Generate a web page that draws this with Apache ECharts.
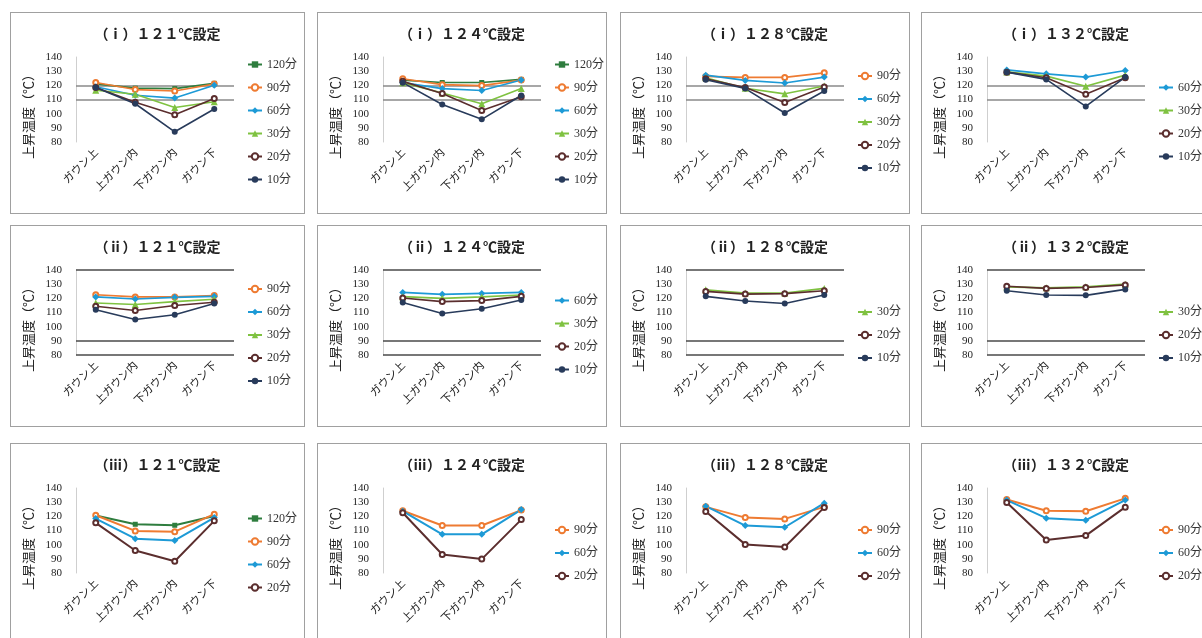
<!DOCTYPE html>
<html>
<head>
<meta charset="utf-8">
<script src="https://cdn.jsdelivr.net/npm/echarts@6/dist/echarts.min.js"></script>
<style>
  html, body { margin: 0; width: 1202px; height: 638px; overflow: hidden; background: #fff; }
  .panel { position: absolute; box-sizing: border-box; border: 1.5px solid #a0a0a0; background: #fff; }
</style>
</head>
<body>
<script>
// categories (x axis)
const cats = ['ガウン上', '上ガウン内', '下ガウン内', 'ガウン下'];
// y axis ticks
const yMin = 80, yMax = 140, yStep = 10;

// row (i)
const names_i121 = ['120分', '90分', '60分', '30分', '20分', '10分'];
const vals_i121 = [
  [121, 118, 117.7, 121.4],
  [122, 117, 116, 121],
  [119, 113, 111, 120],
  [116.5, 113.7, 104.4, 108.4],
  [118.4, 108, 99.3, 110.7],
  [118.4, 107, 87.2, 103.3]
];
const names_i124 = ['120分', '90分', '60分', '30分', '20分', '10分'];
const vals_i124 = [
  [123.7, 122, 122, 124.2],
  [124.7, 120.5, 119.8, 123.7],
  [121.9, 117.7, 116.3, 123.7],
  [121.9, 114.6, 107, 117.7],
  [122.8, 114.2, 102.3, 111.9],
  [121.9, 106.5, 96, 112.8]
];
const names_i128 = ['90分', '60分', '30分', '20分', '10分'];
const vals_i128 = [
  [126.3, 125.6, 125.6, 128.8],
  [127.2, 123.5, 121.6, 125.8],
  [125.3, 117.9, 114, 119.5],
  [124.7, 118.4, 107.9, 118.8],
  [124, 117.7, 100.5, 116]
];
const names_i132 = ['60分', '30分', '20分', '10分'];
const vals_i132 = [
  [130.9, 128.1, 125.8, 130.5],
  [129.5, 126.5, 119.3, 127.2],
  [129.3, 125.3, 113.7, 125.3],
  [129.3, 124.2, 105.1, 125.8]
];

// row (ii)
const names_ii121 = ['90分', '60分', '30分', '20分', '10分'];
const vals_ii121 = [
  [122.5, 121, 121, 122],
  [121, 119.5, 120.7, 121.4],
  [116.7, 115.6, 117.7, 119.3],
  [114.4, 111.4, 114.9, 117.2],
  [111.9, 105.1, 108.4, 116.3]
];
const names_ii124 = ['60分', '30分', '20分', '10分'];
const vals_ii124 = [
  [124.2, 122.8, 123.5, 124.2],
  [121.2, 120, 121, 122.3],
  [120.2, 117.7, 118.4, 121.4],
  [117, 109.3, 112.6, 118.8]
];
const names_ii128 = ['30分', '20分', '10分'];
const vals_ii128 = [
  [126, 123.7, 123.7, 127],
  [124.9, 123, 123.3, 125.3],
  [121.4, 118.1, 116.3, 122.3]
];
const names_ii132 = ['30分', '20分', '10分'];
const vals_ii132 = [
  [128.1, 127.4, 128.1, 130],
  [128.5, 127, 127.7, 129.5],
  [125.3, 122.3, 122.1, 126.3]
];

// row (iii)
const names_iii121 = ['120分', '90分', '60分', '20分'];
const vals_iii121 = [
  [120.6, 114.4, 113.7, 120.3],
  [120.8, 109.7, 109.2, 121.5],
  [118.4, 104.2, 103, 119.1],
  [115.4, 95.9, 88.3, 116.8]
];
const names_iii124 = ['90分', '60分', '20分'];
const vals_iii124 = [
  [123.9, 113.5, 113.5, 124.4],
  [123.6, 107.3, 107.3, 124.8],
  [122.5, 93.1, 89.8, 117.7]
];
const names_iii128 = ['90分', '60分', '20分'];
const vals_iii128 = [
  [126.7, 119.1, 118.2, 126.7],
  [127.2, 113.5, 112.3, 129.3],
  [123.4, 100.2, 98.3, 126.3]
];
const names_iii132 = ['90分', '60分', '20分'];
const vals_iii132 = [
  [131.9, 123.9, 123.6, 132.7],
  [131.5, 118.7, 117.3, 131.5],
  [129.8, 103.3, 106.4, 126.5]
];

// reference lines per row
const refs_i = [120, 110];
const refs_ii = [140, 90, 80];
const refs_iii = [];

const titles = [
  ['（ⅰ）１２１℃設定', '（ⅰ）１２４℃設定', '（ⅰ）１２８℃設定', '（ⅰ）１３２℃設定'],
  ['（ⅱ）１２１℃設定', '（ⅱ）１２４℃設定', '（ⅱ）１２８℃設定', '（ⅱ）１３２℃設定'],
  ['（ⅲ）１２１℃設定', '（ⅲ）１２４℃設定', '（ⅲ）１２８℃設定', '（ⅲ）１３２℃設定']
];

const seriesStyle = {
  '120分': { color: '#2e7d3e', symbol: 'rect', size: 5 },
  '90分': { color: '#ee7b32', symbol: 'emptyCircle', size: 5 },
  '60分': { color: '#1d9ad6', symbol: 'diamond', size: 7 },
  '30分': { color: '#7fc241', symbol: 'triangle', size: 7 },
  '20分': { color: '#5b2e2e', symbol: 'emptyCircle', size: 5 },
  '10分': { color: '#283b5b', symbol: 'circle', size: 6 }
};

const serif = "'Liberation Serif', 'Noto Sans CJK JP', serif";
const lefts = [10, 317, 620, 921];
const widths = [295, 290, 290, 290];
const tops = [12, 225, 443];

const panels = [
  [[names_i121, vals_i121], [names_i124, vals_i124], [names_i128, vals_i128], [names_i132, vals_i132]],
  [[names_ii121, vals_ii121], [names_ii124, vals_ii124], [names_ii128, vals_ii128], [names_ii132, vals_ii132]],
  [[names_iii121, vals_iii121], [names_iii124, vals_iii124], [names_iii128, vals_iii128], [names_iii132, vals_iii132]]
];
const refsByRow = [refs_i, refs_ii, refs_iii];

panels.forEach((row, r) => {
  row.forEach((p, c) => {
    const names = p[0], vals = p[1];
    const div = document.createElement('div');
    div.className = 'panel';
    div.style.left = lefts[c] + 'px';
    div.style.top = tops[r] + 'px';
    div.style.width = widths[c] + 'px';
    div.style.height = '202px';
    document.body.appendChild(div);
    const chart = echarts.init(div);

    const lw = r === 2 ? 2 : 1.6;
    const series = names.map((n, k) => ({
      name: n,
      type: 'line',
      data: vals[k],
      symbol: seriesStyle[n].symbol,
      symbolSize: seriesStyle[n].size,
      itemStyle: { color: seriesStyle[n].color },
      lineStyle: { color: seriesStyle[n].color, width: lw },
      z: 3
    }));
    const refs = refsByRow[r];
    if (refs.length) {
      series[0].markLine = {
        silent: true,
        symbol: 'none',
        label: { show: false },
        lineStyle: { color: r === 0 ? '#8a8a8a' : '#4a4a4a', width: 1.5, type: 'solid' },
        data: refs.map(v => ({ yAxis: v })),
        z: 1
      };
    }

    const option = {
      animation: false,
      title: {
        text: titles[r][c],
        left: 'center',
        top: 10,
        textStyle: { fontFamily: serif, fontSize: 14, fontWeight: 'bold', color: '#222' }
      },
      legend: {
        orient: 'vertical',
        left: 236,
        top: 109 - (names.length - 1) * 11.5 - 7,
        padding: 0,
        itemWidth: 14,
        itemHeight: 8,
        itemGap: 9,
        textStyle: { fontFamily: serif, fontSize: 12, lineHeight: 14, color: '#333' },
        data: names
      },
      grid: { left: 65, top: 44, width: 158, height: 85 },
      xAxis: {
        type: 'category',
        data: cats,
        boundaryGap: true,
        axisLine: { show: false },
        axisTick: { show: false },
        axisLabel: { interval: 0, rotate: 45, fontSize: 11, margin: 8, color: '#222', fontFamily: "'Noto Sans CJK JP'" }
      },
      yAxis: {
        type: 'value',
        min: yMin,
        max: yMax,
        interval: yStep,
        name: '上昇温度（℃）',
        nameLocation: 'middle',
        nameRotate: 90,
        nameGap: 40,
        nameTextStyle: { fontFamily: "'Noto Sans CJK JP'", fontSize: 13, color: '#222', padding: [0, 28, 0, 0] },
        axisLine: { show: true, lineStyle: { color: '#cfcfcf', width: 1 } },
        axisTick: { show: false },
        splitLine: { show: false },
        axisLabel: { fontFamily: serif, fontSize: 11, color: '#222', margin: 14 }
      },
      series: series
    };
    chart.setOption(option);
  });
});
</script>
</body>
</html>
